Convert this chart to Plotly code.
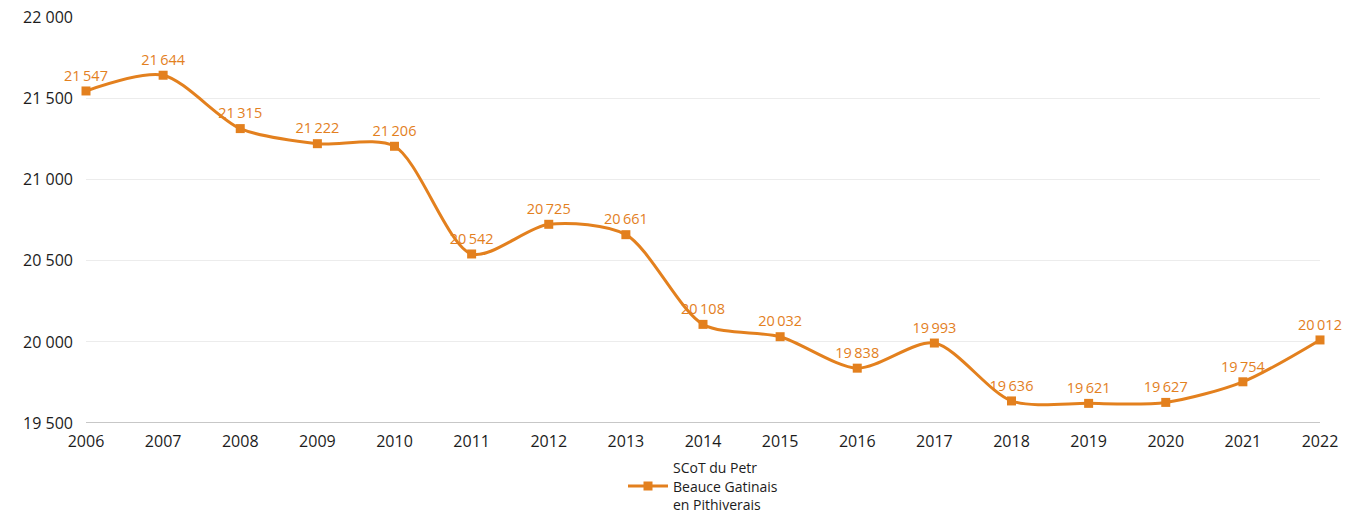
import plotly.graph_objects as go

years = [2006, 2007, 2008, 2009, 2010, 2011, 2012, 2013, 2014, 2015, 2016, 2017, 2018, 2019, 2020, 2021, 2022]
population = [21547, 21644, 21315, 21222, 21206, 20542, 20725, 20661, 20108, 20032, 19838, 19993, 19636, 19621, 19627, 19754, 20012]
series_name = "SCoT du Petr<br>Beauce Gatinais<br>en Pithiverais"
y_ticks = [19500, 20000, 20500, 21000, 21500, 22000]
y_tick_labels = ["19 500", "20 000", "20 500", "21 000", "21 500", "22 000"]

ORANGE = "#E3801E"
FONT = "Open Sans"
DARK = "#1c1c1c"

def fmt(v):
    s = f"{v:,}"
    return s.replace(",", "\u2009")

fig = go.Figure()
fig.add_trace(go.Scatter(
    x=years, y=population, name=series_name,
    mode="lines+markers+text",
    line=dict(color=ORANGE, width=3, shape="spline", smoothing=0.8),
    marker=dict(symbol="square", size=9, color=ORANGE),
    text=[fmt(v) for v in population],
    textposition="top center",
    textfont=dict(color=ORANGE, size=14.5, family=FONT),
    cliponaxis=False,
))

fig.update_layout(
    width=1355, height=514,
    margin=dict(l=86, r=35, t=17, b=91),
    paper_bgcolor="white", plot_bgcolor="white",
    font=dict(family=FONT, size=16, color=DARK),
    showlegend=True,
    legend=dict(orientation="h", xref="paper", yref="container",
                x=0.5, xanchor="center", y=0.12, yanchor="top",
                font=dict(size=14, color=DARK, family=FONT), itemwidth=40,
                bgcolor="rgba(0,0,0,0)"),
    xaxis=dict(tickmode="array", tickvals=years, ticktext=[str(y) for y in years],
               range=[2006, 2022], showgrid=False, zeroline=False, automargin=False,
               showline=False, ticks="", ticklen=0, ticklabelstandoff=7,
               ticklabeloverflow="allow",
               tickfont=dict(size=16, color=DARK)),
    yaxis=dict(tickmode="array", tickvals=y_ticks, ticktext=y_tick_labels,
               range=[19500, 22003], showgrid=True, gridcolor="#ececec", gridwidth=1,
               zeroline=False, showline=False, ticks="", ticklabelstandoff=12, automargin=False,
               ticklabeloverflow="allow",
               tickfont=dict(size=16, color=DARK)),
    shapes=[
        dict(type="line", xref="paper", yref="y", x0=0, x1=1, y0=19500, y1=19500,
             line=dict(color="#8f8f8f", width=1.2), layer="below"),
    ],
)

fig.write_html(
    "out.html",
    config={"displayModeBar": False},
    post_script="document.body.style.margin='0';document.body.style.overflow='hidden';",
)
